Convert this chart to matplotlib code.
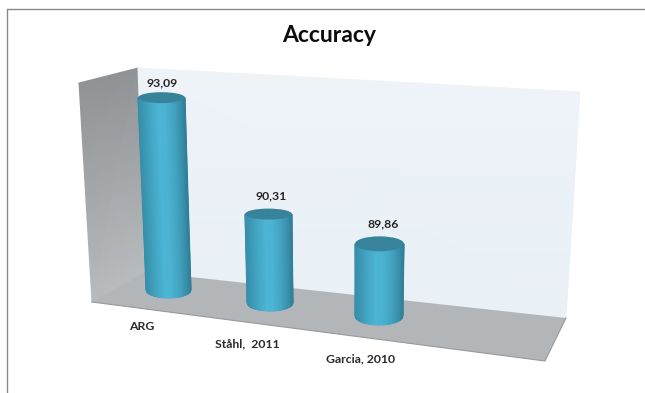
import matplotlib
matplotlib.use('Agg')
import matplotlib.pyplot as plt
from matplotlib.colors import LinearSegmentedColormap
from matplotlib.patches import Ellipse, Polygon
import numpy as np

plt.rcParams['font.family'] = ['Lato', 'DejaVu Sans']

categories = ['ARG', 'Ståhl,  2011', 'Garcia, 2010']
accuracy = [93.09, 90.31, 89.86]
value_labels = ['93,09', '90,31', '89,86']

# scene layout in pixels
floor_value = 87.92
px_per_unit = 37.2
base_x = [168.5, 270, 379]
base_y = [290, 303, 316]
tilt = [-7 / 192.5, -1.5 / 89, 0.5 / 72]
top_half = [23.5, 23.5, 24.5]
bottom_half = [22.5, 23, 24]
top_ry = [5.5, 5.5, 7.5]
bottom_ry = [8, 8, 9]
label_gap = [14.5, 18, 20]
label_dx = [1, 3, 4]
cat_x = [142, 247, 360]
cat_y = [327, 344, 359]

side = LinearSegmentedColormap.from_list('side', [(0, '#8f9396'), (0.65, '#989c9f'), (1, '#b9bcbe')])
wall = LinearSegmentedColormap.from_list('wall', ['#eef3f8', '#e9f0f6'])
body = LinearSegmentedColormap.from_list('body', [
    (0.0, '#378ea9'), (0.25, '#44a6c4'), (0.42, '#4cb4d4'), (0.58, '#4cb3d3'),
    (0.78, '#42a2c0'), (0.93, '#388da8'), (1.0, '#307f98')])

fig = plt.figure(figsize=(6.45, 3.93), dpi=100)
ax = fig.add_axes([0, 0, 1, 1])
ax.set_xlim(0, 645)
ax.set_ylim(393, 0)
ax.axis('off')

# outer frame, only top and left show
ax.plot([6.5, 6.5, 645], [393, 8.5, 8.5], color='#8a8a8a', lw=1.0, zorder=1)


def quad(xs, ys, cmap, zorder=2):
    ax.pcolormesh(np.array(xs), np.array(ys), np.array([[0.0, 0.0], [1.0, 1.0]]),
                  cmap=cmap, vmin=0, vmax=1, shading='gouraud', zorder=zorder)


# walls and floor
quad([[79, 138], [92, 145]], [[83, 68], [302, 272]], side)
quad([[138, 580], [145, 566]], [[68, 92], [272, 318]], wall)
ax.add_patch(Polygon([[92, 302], [145, 272], [566, 318], [545, 361]], closed=True,
                     facecolor='#b3b6b9', edgecolor='none', zorder=3))
ax.plot([92, 545, 566], [302, 361, 318], color='#97999b', lw=0.8, zorder=3)

# cylinders
for i, value in enumerate(accuracy):
    height = (value - floor_value) * px_per_unit
    top_cx = base_x[i] + tilt[i] * height
    top_cy = base_y[i] - height

    t = np.linspace(-1, 1, 61)
    front = np.sqrt(1 - t ** 2)
    xs = np.vstack([top_cx + t * top_half[i], base_x[i] + t * bottom_half[i]])
    ys = np.vstack([top_cy + front * top_ry[i], base_y[i] + front * bottom_ry[i]])
    shade = np.vstack([(t + 1) / 2, (t + 1) / 2])
    ax.pcolormesh(xs, ys, shade, cmap=body, vmin=0, vmax=1, shading='gouraud', zorder=4)
    ax.add_patch(Ellipse((top_cx, top_cy), 2 * top_half[i], 2 * top_ry[i],
                         facecolor='#38839c', edgecolor='none', zorder=5))

    ax.text(top_cx + label_dx[i], top_cy - label_gap[i], value_labels[i], ha='center', va='center',
            fontsize=8.8, fontweight='bold', color='#262626', zorder=6)
    ax.text(cat_x[i], cat_y[i], categories[i], ha='center', va='center',
            fontsize=8.8, fontweight='bold', color='#2a2a2a', zorder=6)

ax.text(329, 36, 'Accuracy', ha='center', va='center', fontsize=16.5, fontweight='bold', color='#0d0d0d')

fig.savefig('out.png', dpi=100)
